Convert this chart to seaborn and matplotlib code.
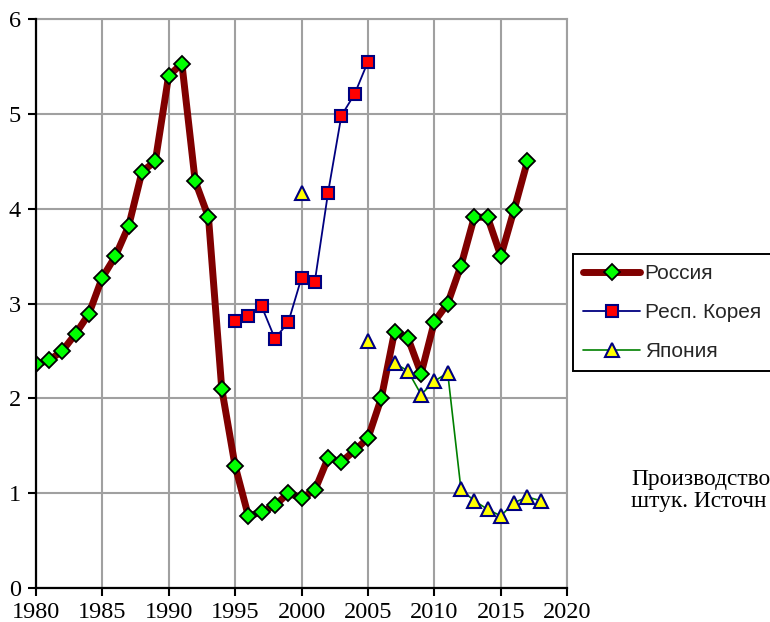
import numpy as np
import pandas as pd
import seaborn as sns
import matplotlib
matplotlib.use("Agg")
import matplotlib.pyplot as plt
from matplotlib.lines import Line2D

# ---- data ----
russia_years = list(range(1980, 2018))
russia_values = [2.36, 2.40, 2.50, 2.68, 2.89, 3.27, 3.50, 3.82, 4.39, 4.50,
                 5.40, 5.53, 4.29, 3.91, 2.10, 1.29, 0.76, 0.80, 0.87, 1.00,
                 0.95, 1.03, 1.37, 1.33, 1.45, 1.58, 2.00, 2.70, 2.64, 2.26,
                 2.81, 3.00, 3.40, 3.91, 3.91, 3.50, 3.99, 4.50]

korea_years = list(range(1995, 2006))
korea_values = [2.82, 2.87, 2.97, 2.63, 2.80, 3.27, 3.23, 4.17, 4.98, 5.21, 5.55]

japan_years = [2000, 2005] + list(range(2007, 2019))
japan_values = [4.17, 2.60, 2.37, 2.29, 2.04, 2.18, 2.27, 1.04, 0.92, 0.83,
                0.76, 0.90, 0.96, 0.92]

series_labels = ["Россия", "Респ. Корея", "Япония"]
x_ticks = [1980, 1985, 1990, 1995, 2000, 2005, 2010, 2015, 2020]
y_ticks = [0, 1, 2, 3, 4, 5, 6]
note_lines = ["Производство", "штук. Источн"]

# ---- frames ----
df_ru = pd.DataFrame({"year": russia_years, "value": russia_values})
df_kr = pd.DataFrame({"year": korea_years, "value": korea_values})
df_jp = pd.DataFrame({"year": japan_years, "value": japan_values})
df_jp["seg"] = (df_jp["year"].diff().fillna(1) > 1).cumsum()

sns.set_theme(style="white")
plt.rcParams["font.family"] = ["Liberation Serif", "DejaVu Serif"]

fig = plt.figure(figsize=(7.7, 6.22), dpi=100)
ax = fig.add_axes([35.7 / 770, 34 / 622, (567.3 - 35.7) / 770, (588 - 19) / 622])

ru_style = dict(color="#800000", lw=5.0, marker="D", markersize=8.5,
                markerfacecolor="#00FF00", markeredgecolor="black",
                markeredgewidth=1.3, solid_capstyle="round", solid_joinstyle="round")
kr_style = dict(color="#000080", lw=1.3, marker="s", markersize=9,
                markerfacecolor="#FF0000", markeredgecolor="#000080",
                markeredgewidth=1.5)
jp_style = dict(color="#008000", lw=1.2, marker="^", markersize=10,
                markerfacecolor="#FFFF00", markeredgecolor="#000080",
                markeredgewidth=1.5)

sns.lineplot(data=df_ru, x="year", y="value", estimator=None, ax=ax,
             legend=False, zorder=3, **ru_style)
sns.lineplot(data=df_kr, x="year", y="value", estimator=None, ax=ax,
             legend=False, zorder=4, **kr_style)
sns.lineplot(data=df_jp, x="year", y="value", units="seg", estimator=None,
             ax=ax, legend=False, zorder=5, **jp_style)

ax.set_xlim(1980, 2020)
ax.set_ylim(0, 6)
ax.set_xticks(x_ticks)
ax.set_yticks(y_ticks)
ax.set_xticklabels([str(t) for t in x_ticks])
ax.set_yticklabels([str(t) for t in y_ticks])
ax.set_xlabel("")
ax.set_ylabel("")

ax.grid(True, color="#a0a0a0", lw=1.5)
ax.set_axisbelow(True)
for side in ["top", "right"]:
    ax.spines[side].set_color("#a0a0a0")
    ax.spines[side].set_linewidth(1.5)
for side in ["left", "bottom"]:
    ax.spines[side].set_color("black")
    ax.spines[side].set_linewidth(1.6)
    ax.spines[side].set_zorder(6)

ax.tick_params(axis="both", which="major", direction="out", length=5.5,
               width=1.5, color="black", labelsize=17.5, labelcolor="black",
               bottom=True, left=True, top=False, right=False)
ax.tick_params(axis="y", pad=5)
ax.tick_params(axis="x", pad=4.5)

handles = [Line2D([], [], **{k: v for k, v in s.items()})
           for s in (ru_style, kr_style, jp_style)]
leg = fig.legend(handles, series_labels, loc="upper left",
                 bbox_to_anchor=(572.7 / 770, (622 - 254) / 622),
                 borderaxespad=0, frameon=True, fancybox=False, shadow=False,
                 framealpha=1, edgecolor="black", handlelength=2.75,
                 handletextpad=0.2, labelspacing=0.95, borderpad=0.5,
                 prop={"family": ["Liberation Sans", "DejaVu Sans"], "size": 15})
leg.get_frame().set_linewidth(1.4)

fig.text(631 / 770, (622 - 485) / 622, note_lines[0], fontsize=16.8,
         va="baseline", ha="left", color="black")
fig.text(631 / 770, (622 - 507) / 622, note_lines[1], fontsize=16.8,
         va="baseline", ha="left", color="black")

fig.savefig("out.png", dpi=100)
